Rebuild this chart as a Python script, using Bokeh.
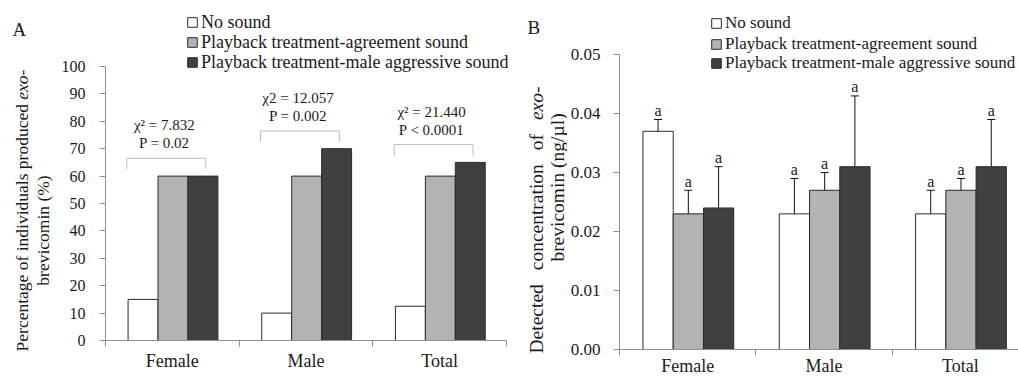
import math
from bokeh.plotting import figure
from bokeh.models import (ColumnDataSource, Range1d, FixedTicker, Legend, LegendItem,
                          Whisker, TeeHead, PrintfTickFormatter)
from bokeh.layouts import row, column
from bokeh.embed import file_html
from bokeh.resources import INLINE
from bokeh.core.properties import value

# ---------------- data ----------------
categories = ["Female", "Male", "Total"]
series = ["No sound", "Playback treatment-agreement sound",
          "Playback treatment-male aggressive sound"]

# Panel A: percentage of individuals producing exo-brevicomin (%)
pct_no_sound = [15, 10, 12.5]
pct_agreement = [60, 60, 60]
pct_aggressive = [60, 70, 65]
chi_labels = ["\u03c7\u00b2 = 7.832", "\u03c72 = 12.057", "\u03c7\u00b2 = 21.440"]
p_labels = ["P = 0.02", "P = 0.002", "P < 0.0001"]
pct_ticks = [0, 10, 20, 30, 40, 50, 60, 70, 80, 90, 100]

# Panel B: detected concentration of exo-brevicomin (ng/ul), mean with error range
conc_no_sound = [0.037, 0.023, 0.023]
conc_no_sound_lo = [0.035, 0.017, 0.019]
conc_no_sound_hi = [0.039, 0.029, 0.027]
conc_agreement = [0.023, 0.027, 0.027]
conc_agreement_lo = [0.019, 0.024, 0.025]
conc_agreement_hi = [0.027, 0.030, 0.029]
conc_aggressive = [0.024, 0.031, 0.031]
conc_aggressive_lo = [0.017, 0.019, 0.023]
conc_aggressive_hi = [0.031, 0.043, 0.039]
sig_letters = ["a", "a", "a"]
conc_ticks = [0.0, 0.01, 0.02, 0.03, 0.04, 0.05]

# ---------------- style ----------------
SERIF = "Liberation Serif"
TXT = "#1a1a1a"
AX = "#8f8f8f"
FILLS = ["#ffffff", "#b3b3b3", "#404040"]
EDGE = "#2b2b2b"
H = 378


def strip_fig(width):
    """A figure whose frame is the whole canvas, used for panel letters / y titles."""
    s = figure(width=width, height=H, x_range=Range1d(0, width), y_range=Range1d(0, H),
               output_backend="svg", toolbar_location=None,
               x_axis_location=None, y_axis_location=None,
               min_border_left=0, min_border_right=0, min_border_top=0, min_border_bottom=0)
    s.xgrid.visible = False
    s.ygrid.visible = False
    s.outline_line_color = None
    return s


def main_fig(width, border_left, border_right, border_bottom, xend, ystart, yend):
    p = figure(width=width, height=H, x_range=Range1d(0, xend),
               y_range=Range1d(ystart, yend),
               output_backend="svg", toolbar_location=None,
               min_border_left=border_left, min_border_right=border_right,
               min_border_top=0, min_border_bottom=border_bottom)
    p.xgrid.visible = False
    p.ygrid.visible = False
    p.outline_line_color = None
    xa = p.xaxis[0]
    xa.ticker = FixedTicker(ticks=[i + 0.5 for i in range(len(categories))],
                            minor_ticks=[0, 1, 2, 3])
    xa.major_label_overrides = {i + 0.5: c for i, c in enumerate(categories)}
    xa.major_label_text_font = SERIF
    xa.major_label_text_font_size = "18px"
    xa.major_label_text_color = TXT
    xa.major_tick_line_color = None
    xa.major_tick_out = 0
    xa.major_tick_in = 0
    xa.minor_tick_out = 6
    xa.minor_tick_in = 0
    xa.minor_tick_line_color = AX
    xa.axis_line_color = AX
    ya = p.yaxis[0]
    ya.major_tick_out = 6
    ya.major_tick_in = 0
    ya.minor_tick_line_color = None
    ya.axis_line_color = AX
    ya.major_tick_line_color = AX
    ya.major_label_text_font = SERIF
    ya.major_label_text_color = TXT
    return p


def vertical_words(s, x, start, end, words, ems, styles, fs):
    """Vertical (bottom-to-top) justified line: words spread between page-y start/end."""
    widths = [e * fs for e in ems]
    n_gaps = max(len(words) - 1, 1)
    gap = ((start - end) - sum(widths)) / n_gaps
    pos = start
    for w_txt, w, st in zip(words, widths, styles):
        c = pos - w / 2
        s.text(x=[x], y=[H - c], text=[w_txt], angle=math.pi / 2,
               text_align="center", text_baseline="middle", text_font=value(SERIF),
               text_font_size=f"{fs}px", text_font_style=st, text_color=TXT)
        pos -= w + gap


def add_legend_rows(p, renders, x_loc, frame_bottom, row_centers, fs):
    """One single-row legend per series, each placed at its own row."""
    for s_label, r, c in zip(series, renders, row_centers):
        lg = Legend(items=[LegendItem(label=s_label, renderers=[r])],
                    location=(x_loc, frame_bottom - (c + 11)), orientation="vertical",
                    glyph_width=12, glyph_height=12, label_height=20, spacing=0,
                    padding=0, margin=0, label_standoff=3, border_line_color=None,
                    background_fill_alpha=0, label_text_font=SERIF,
                    label_text_font_size=f"{fs}px", label_text_color=TXT)
        p.add_layout(lg)


idx = list(range(len(categories)))

# ================= strip A (panel letter + y title) =================
WA_S = 55
sA = strip_fig(WA_S)
sA.text(x=[12], y=[H - 29], text=["A"], text_align="left", text_baseline="alphabetic",
        text_font=value(SERIF), text_font_size="19px", text_color=TXT)
fsA = 17.5
startA = 210 + (14.136 + 1.721 + 0.25) * fsA / 2
vertical_words(sA, 21, startA, startA - (14.136 + 0.25 + 1.721) * fsA,
               ["Percentage of individuals produced", "exo-"], [14.136, 1.721],
               ["normal", "italic"], fsA)
sA.text(x=[42], y=[H - 230], text=["brevicomin (%)"], angle=math.pi / 2,
        text_align="center", text_baseline="middle", text_font=value(SERIF),
        text_font_size=f"{fsA}px", text_color=TXT)

# ================= Panel A =================
FL_A, FB_A, FT_A, FR_A = 105, 340, 66, 506
WA = 508 - WA_S
yendA = 100 * FB_A / (FB_A - FT_A)
xendA = 3 * (508 - FL_A) / (FR_A - FL_A)
pA = main_fig(WA, FL_A - WA_S, 0, H - FB_A, xendA, 0, yendA)
pA.yaxis[0].ticker = FixedTicker(ticks=pct_ticks)
pA.yaxis[0].bounds = (0, 100)
pA.yaxis[0].major_label_text_font_size = "16px"
pA.yaxis[0].major_label_standoff = 14
pA.xaxis[0].bounds = (0, 3)
pA.xaxis[0].major_label_standoff = 4

wA = 0.224
renders_A = []
for k, (vals, off) in enumerate(zip([pct_no_sound, pct_agreement, pct_aggressive],
                                    [-wA, 0.0, wA])):
    src = ColumnDataSource(dict(x=[i + 0.505 + off for i in idx], top=vals))
    r = pA.vbar(x="x", top="top", bottom=0, width=wA, source=src,
                fill_color=FILLS[k], line_color=EDGE, line_width=1)
    renders_A.append(r)

group_max = [max(a, b, c) for a, b, c in zip(pct_no_sound, pct_agreement, pct_aggressive)]
br_xs = [[i + 0.16, i + 0.16, i + 0.75, i + 0.75] for i in idx]
br_ys = [[m + 2.5, m + 6.5, m + 6.5, m + 2.5] for m in group_max]
pA.multi_line(xs=br_xs, ys=br_ys, line_color="#bdbdbd", line_width=1)
pA.text(x=[i + 0.44 for i in idx], y=[m + 18.5 for m in group_max], text=chi_labels,
        text_align="center", text_baseline="middle", text_font=value(SERIF),
        text_font_size="15px", text_color=TXT)
pA.text(x=[i + 0.44 for i in idx], y=[m + 12 for m in group_max], text=p_labels,
        text_align="center", text_baseline="middle", text_font=value(SERIF),
        text_font_size="15px", text_color=TXT)

add_legend_rows(pA, renders_A, 81, FB_A, [21.7, 41.7, 61.7], 18)

# ================= strip B =================
X_SB = 508
WB_S = 59
sB = strip_fig(WB_S)
sB.text(x=[527 - X_SB], y=[H - 27], text=["B"], text_align="left",
        text_baseline="alphabetic", text_font=value(SERIF), text_font_size="19px",
        text_color=TXT)
fsB = 19.5
vertical_words(sB, 536 - X_SB, 353, 86,
               ["Detected", "concentration", "of", "exo-"],
               [3.554, 5.443, 0.833, 1.721],
               ["normal", "normal", "normal", "italic"], fsB)
sB.text(x=[557 - X_SB], y=[H - 187], text=["brevicomin (ng/\u00b5l)"], angle=math.pi / 2,
        text_align="center", text_baseline="middle", text_font=value(SERIF),
        text_font_size=f"{fsB}px", text_color=TXT)

# ================= Panel B =================
X_PB = X_SB + WB_S
FL_B, FB_B, FT_B = 617, 350, 54.3
yendB = 0.05 * FB_B / (FB_B - FT_B)
pB = main_fig(1018 - X_PB, FL_B - X_PB, 0, H - FB_B, (1018 - FL_B) / 137.0, 0, yendB)
pB.yaxis[0].ticker = FixedTicker(ticks=conc_ticks)
pB.yaxis[0].bounds = (0, 0.05)
pB.yaxis[0].formatter = PrintfTickFormatter(format="%.2f")
pB.yaxis[0].major_label_text_font_size = "17px"
pB.yaxis[0].major_label_standoff = 13
pB.xaxis[0].major_label_standoff = 0

wB = 0.222
renders_B = []
for k, (vals, lo, hi, off) in enumerate(zip(
        [conc_no_sound, conc_agreement, conc_aggressive],
        [conc_no_sound_lo, conc_agreement_lo, conc_aggressive_lo],
        [conc_no_sound_hi, conc_agreement_hi, conc_aggressive_hi],
        [-wB, 0.0, wB])):
    src = ColumnDataSource(dict(x=[i + 0.505 + off for i in idx], top=vals, lo=lo, hi=hi,
                                letter=sig_letters))
    r = pB.vbar(x="x", top="top", bottom=0, width=wB, source=src,
                fill_color=FILLS[k], line_color=EDGE, line_width=1)
    renders_B.append(r)
    wh = Whisker(source=src, base="x", lower="lo", upper="hi", dimension="height",
                 line_color="#111111", line_width=1,
                 upper_head=TeeHead(size=8, line_color="#111111", line_width=1),
                 lower_head=TeeHead(size=8, line_color="#111111", line_width=1))
    pB.add_layout(wh)
    pB.text(x="x", y="hi", text="letter", source=src, text_align="center",
            text_baseline="alphabetic", y_offset=-9, text_font=value(SERIF),
            text_font_size="16px", text_color=TXT)

add_legend_rows(pB, renders_B, 91, FB_B, [23.3, 44.0, 63.3], 17)

layout = row(sA, column(pA), sB, column(pB))
open("out.html", "w").write(file_html(layout, INLINE))
